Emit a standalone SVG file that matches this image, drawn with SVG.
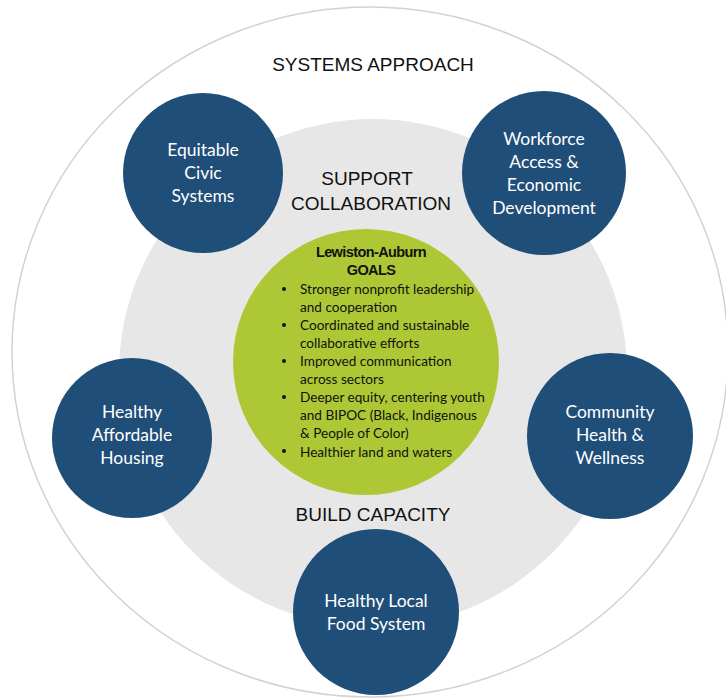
<svg xmlns="http://www.w3.org/2000/svg" width="726" height="698" viewBox="0 0 726 698">
<style>
.node{fill:#1f4e79}
.nt{fill:#ffffff;font-family:Lato,"Noto Sans",sans-serif;font-size:17.5px;text-anchor:middle}
.lbl{fill:#111111;font-family:"Liberation Sans",Arial,sans-serif;font-size:19px;text-anchor:middle}
.gt{fill:#111111;font-family:Lato,"Noto Sans",sans-serif;font-size:13.6px}
.gh{fill:#111111;font-family:"Liberation Sans",Arial,sans-serif;font-size:14.5px;font-weight:bold;text-anchor:middle;letter-spacing:-0.6px}
</style>
<rect width="726" height="698" fill="#ffffff"/>
<g id="background">
<ellipse cx="370" cy="352" rx="358" ry="345" fill="#ffffff" stroke="#d2d2d2" stroke-width="1.5"/>
<circle cx="373" cy="373" r="254" fill="#e7e7e7"/>
<text class="lbl" x="373" y="71">SYSTEMS APPROACH</text>
<text class="lbl" x="367" y="185">SUPPORT</text>
<text class="lbl" x="371" y="210">COLLABORATION</text>
<text class="lbl" x="373" y="521">BUILD CAPACITY</text>
</g>
<g id="connectors"></g>
<g id="goals">
<circle cx="366" cy="362" r="133" fill="#adc834"/>
<text class="gh" x="371" y="257">Lewiston-Auburn</text>
<text class="gh" x="371" y="275">GOALS</text>
<g fill="#111111">
<circle cx="284" cy="289" r="2"/>
<circle cx="284" cy="325" r="2"/>
<circle cx="284" cy="361" r="2"/>
<circle cx="284" cy="397" r="2"/>
<circle cx="284" cy="451" r="2"/>
</g>
<text class="gt" x="300" y="293.5">Stronger nonprofit leadership</text>
<text class="gt" x="300" y="311.5">and cooperation</text>
<text class="gt" x="300" y="329.5">Coordinated and sustainable</text>
<text class="gt" x="300" y="347.5">collaborative efforts</text>
<text class="gt" x="300" y="365.5">Improved communication</text>
<text class="gt" x="300" y="383.5">across sectors</text>
<text class="gt" x="300" y="402">Deeper equity, centering youth</text>
<text class="gt" x="300" y="420">and BIPOC (Black, Indigenous</text>
<text class="gt" x="300" y="438">&amp; People of Color)</text>
<text class="gt" x="300" y="456.5">Healthier land and waters</text>
</g>
<g id="equitable">
<circle class="node" cx="203" cy="173" r="80"/>
<text class="nt" x="203" y="156">Equitable</text>
<text class="nt" x="203" y="179">Civic</text>
<text class="nt" x="203" y="202">Systems</text>
</g>
<g id="workforce">
<circle class="node" cx="544" cy="173" r="82"/>
<text class="nt" x="544" y="145">Workforce</text>
<text class="nt" x="544" y="168">Access &amp;</text>
<text class="nt" x="544" y="191">Economic</text>
<text class="nt" x="544" y="214">Development</text>
</g>
<g id="housing">
<circle class="node" cx="132" cy="438" r="80"/>
<text class="nt" x="132" y="418">Healthy</text>
<text class="nt" x="132" y="441">Affordable</text>
<text class="nt" x="132" y="464">Housing</text>
</g>
<g id="community">
<circle class="node" cx="610" cy="436" r="83"/>
<text class="nt" x="610" y="418">Community</text>
<text class="nt" x="610" y="441">Health &amp;</text>
<text class="nt" x="610" y="464">Wellness</text>
</g>
<g id="food">
<circle class="node" cx="376" cy="612" r="83"/>
<text class="nt" x="376" y="607">Healthy Local</text>
<text class="nt" x="376" y="630">Food System</text>
</g>
</svg>
